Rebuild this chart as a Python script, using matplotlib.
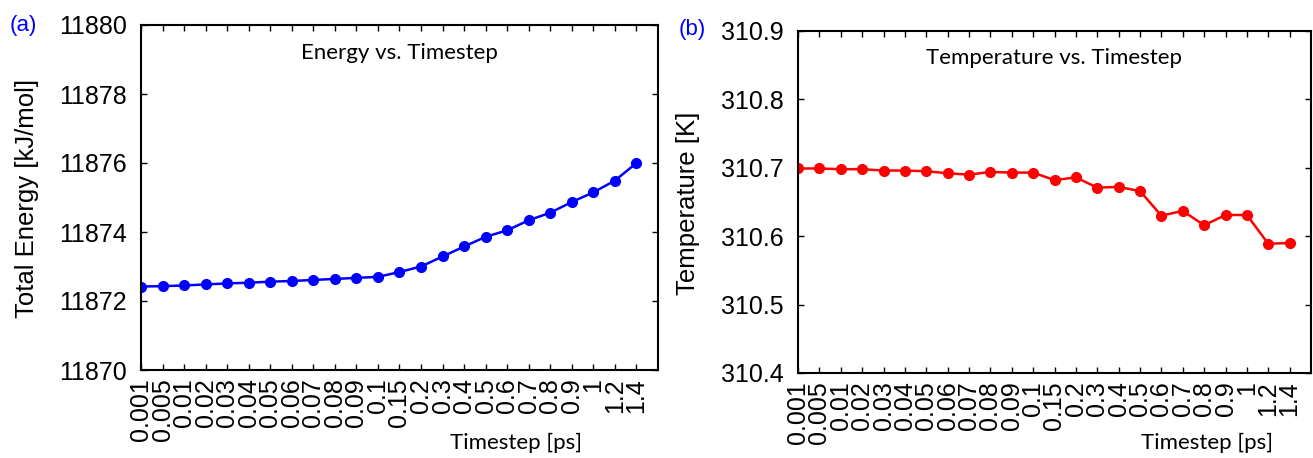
import numpy as np
import matplotlib
matplotlib.use("Agg")
import matplotlib.pyplot as plt

timesteps = ["0.001", "0.005", "0.01", "0.02", "0.03", "0.04", "0.05", "0.06",
             "0.07", "0.08", "0.09", "0.1", "0.15", "0.2", "0.3", "0.4", "0.5",
             "0.6", "0.7", "0.8", "0.9", "1", "1.2", "1.4"]

energy = [11872.42, 11872.43, 11872.45, 11872.48, 11872.51, 11872.53, 11872.56,
          11872.58, 11872.61, 11872.64, 11872.67, 11872.70, 11872.84, 11873.00,
          11873.29, 11873.58, 11873.86, 11874.05, 11874.34, 11874.56, 11874.87,
          11875.15, 11875.49, 11876.00]

temperature = [310.699, 310.699, 310.698, 310.698, 310.696, 310.696, 310.695,
               310.692, 310.690, 310.694, 310.693, 310.693, 310.682, 310.686,
               310.671, 310.672, 310.666, 310.630, 310.637, 310.616, 310.631,
               310.631, 310.589, 310.590]

plt.rcParams['font.family'] = ['Liberation Sans', 'DejaVu Sans']

W, H = 1313, 458
fig = plt.figure(figsize=(W / 100, H / 100), dpi=100)


def px_axes(l, t, r, b):
    return fig.add_axes([l / W, (H - b) / H, (r - l) / W, (b - t) / H])


def style(ax, x, y, color, ylim, yticks, yfmt, title, ylabel):
    ax.plot(np.arange(len(y)), y, '-o', color=color, lw=1.8, ms=7)
    ax.set_xlim(0, len(y))
    ax.set_ylim(*ylim)
    ax.set_yticks(yticks, labels=[yfmt.format(v) for v in yticks])
    ax.set_xticks(np.arange(len(x)), labels=x, rotation=90)
    ax.tick_params(direction="in", top=True, right=True, length=4,
                   width=1, labelsize=18, pad=10)
    ax.tick_params(axis="x", pad=6)
    for s in ax.spines.values():
        s.set_linewidth(1.5)
    ax.text(0.5, 0.92, title, transform=ax.transAxes, ha="center",
            va="center", fontsize=16, family="Lato")
    ax.set_ylabel(ylabel, fontsize=18.5, va="center")
    ax.set_xlabel("Timestep [ps]", fontsize=16, family="Lato", va="center")


ax1 = px_axes(141, 25, 658, 370)
style(ax1, timesteps, energy, "#0000ff", (11870, 11880),
      np.arange(11870, 11881, 2), "{:.0f}", "Energy vs. Timestep",
      "Total Energy [kJ/mol]")
ax1.xaxis.set_label_coords((516 - 141) / 517, (370 - 443) / 345)
ax1.yaxis.set_label_coords((27 - 141) / 517, (370 - 198) / 345)
fig.text(23 / W, 1 - 25 / H, "(a)", color="#0000ff", fontsize=16,
         ha="center", va="center")

ax2 = px_axes(798, 31, 1311, 373)
style(ax2, timesteps, temperature, "#ff0000", (310.4, 310.9),
      np.round(np.arange(310.4, 310.91, 0.1), 1), "{:.1f}",
      "Temperature vs. Timestep", "Temperature [K]")
ax2.xaxis.set_label_coords((1207 - 798) / 513, (373 - 443) / 342)
ax2.yaxis.set_label_coords((688 - 798) / 513, (373 - 203) / 342)
fig.text(692 / W, 1 - 30 / H, "(b)", color="#0000ff", fontsize=16,
         ha="center", va="center")

fig.savefig("out.png", dpi=100)
